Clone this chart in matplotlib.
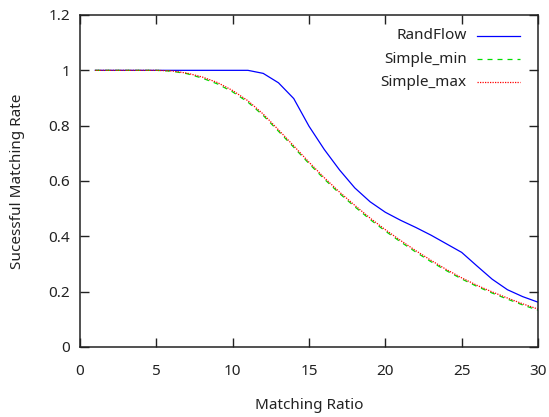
import matplotlib
matplotlib.use("Agg")
import matplotlib.pyplot as plt
from matplotlib.lines import Line2D

plt.rcParams['font.family'] = ['Noto Sans', 'DejaVu Sans']

x = list(range(1, 31))
randflow = [1.0, 1.0, 1.0, 1.0, 1.0, 1.0, 1.0, 1.0, 1.0, 1.0,
            1.0, 0.989, 0.955, 0.898, 0.798, 0.714, 0.64, 0.575, 0.525, 0.487,
            0.458, 0.432, 0.404, 0.373, 0.342, 0.293, 0.245, 0.207, 0.182, 0.162]
simple_max = [1.0, 1.0, 1.0, 1.0, 1.0, 0.998, 0.99, 0.976, 0.956, 0.927,
              0.89, 0.842, 0.785, 0.727, 0.668, 0.612, 0.56, 0.512, 0.466, 0.424,
              0.385, 0.348, 0.313, 0.28, 0.25, 0.223, 0.199, 0.177, 0.156, 0.137]
simple_min = [1.0, 1.0, 1.0, 1.0, 1.0, 0.997, 0.988, 0.972, 0.951, 0.922,
              0.885, 0.837, 0.78, 0.722, 0.663, 0.607, 0.555, 0.507, 0.461, 0.419,
              0.38, 0.343, 0.308, 0.276, 0.246, 0.219, 0.195, 0.173, 0.152, 0.133]
labels = ['RandFlow', 'Simple_min', 'Simple_max']
xticks = [0, 5, 10, 15, 20, 25, 30]
yticks = [0, 0.2, 0.4, 0.6, 0.8, 1.0, 1.2]
yticklabels = ['0', '0.2', '0.4', '0.6', '0.8', '1', '1.2']

fig = plt.figure(figsize=(5.49, 4.17), dpi=100)
ax = fig.add_axes([80/549, 70/417, 458/549, 332/417])

styles = [dict(color='#0000ff', ls='-', lw=0.9),
          dict(color='#00dd00', ls=(0, (4, 4)), lw=0.9),
          dict(color='#ff0000', ls=(0, (1, 1)), lw=0.9)]
for ys, st in zip([randflow, simple_min, simple_max], styles):
    ax.plot(x, ys, **st)

fs = 11
ax.set_xlim(0, 30)
ax.set_ylim(0, 1.2)
ax.set_xticks(xticks)
ax.set_xticklabels([str(t) for t in xticks])
ax.set_yticks(yticks)
ax.set_yticklabels(yticklabels)
ax.tick_params(direction='in', length=6.5, width=1, top=True, right=True,
               labelsize=fs, colors='#222222')
ax.tick_params(axis='x', pad=12)
ax.tick_params(axis='y', pad=7)
for s in ax.spines.values():
    s.set_linewidth(1.1)
    s.set_color('#222222')

ax.set_xlabel('Matching Ratio', fontsize=fs, color='#222222')
ax.set_ylabel('Sucessful Matching Rate', fontsize=fs, color='#222222')
ax.xaxis.set_label_coords(0.5, (347 - 405.7) / 332)
ax.xaxis.label.set_va('center')
ax.yaxis.set_label_coords((17 - 80) / 458, 0.5)
ax.yaxis.label.set_va('center')

# manual gnuplot-style legend (text right aligned, sample to the right)
rows = [0.938, 0.867, 0.798]
for lab, st, yy in zip(labels, styles, rows):
    ax.text(0.844, yy, lab, transform=ax.transAxes, ha='right', va='center',
            fontsize=fs, color='#222222')
    ax.add_line(Line2D([0.866, 0.961], [yy, yy], transform=ax.transAxes, **st))

fig.savefig('out.png', dpi=100)
